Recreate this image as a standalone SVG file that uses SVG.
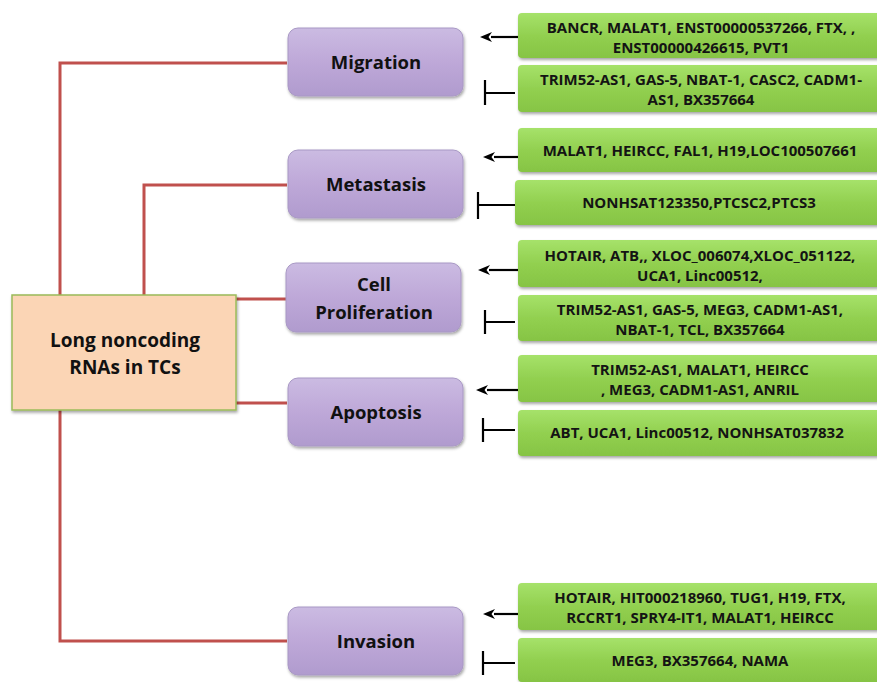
<svg xmlns="http://www.w3.org/2000/svg" width="877" height="682" viewBox="0 0 877 682">
<defs>
<linearGradient id="gGreen" x1="0" y1="0" x2="0" y2="1">
<stop offset="0" stop-color="#a6e26a"/>
<stop offset="0.5" stop-color="#92d050"/>
<stop offset="1" stop-color="#86c444"/>
</linearGradient>
<linearGradient id="gPurple" x1="0" y1="0" x2="0" y2="1">
<stop offset="0" stop-color="#cbbbe2"/>
<stop offset="0.5" stop-color="#bea8d8"/>
<stop offset="1" stop-color="#b09bce"/>
</linearGradient>
<filter id="sh" x="-10%" y="-10%" width="130%" height="140%">
<feDropShadow dx="1" dy="2" stdDeviation="1.5" flood-color="#000" flood-opacity="0.35"/>
</filter>
<marker id="arr" viewBox="0 0 12 10" refX="1" refY="5" markerWidth="12" markerHeight="10" markerUnits="userSpaceOnUse" orient="auto-start-reverse">
<path d="M12,5 L0,0 L3.5,5 L0,10 Z" fill="#000"/>
</marker>
<style>
.red{stroke:#c0504d;stroke-width:3;fill:none}
.blk{stroke:#000;stroke-width:2.2;fill:none}
.green{fill:url(#gGreen);filter:url(#sh)}
.purple{fill:url(#gPurple);stroke:#a898c4;stroke-width:1;filter:url(#sh)}
.gt{font-family:"Open Sans","Liberation Sans",sans-serif;font-weight:bold;font-size:15px;fill:#141414;text-anchor:middle}
.pt{font-family:"Open Sans","Liberation Sans",sans-serif;font-weight:bold;font-size:18.5px;fill:#111;text-anchor:middle}
.ot{font-family:"Open Sans","Liberation Sans",sans-serif;font-weight:bold;font-size:19px;fill:#111;text-anchor:middle}
</style>
</defs>
<rect width="877" height="682" fill="#fff"/>
<g id="connectors">
<polyline class="red" points="287,63 60,63 60,295"/>
<polyline class="red" points="287,185 144,185 144,295"/>
<line class="red" x1="236" y1="299" x2="287" y2="299"/>
<line class="red" x1="236" y1="403" x2="287" y2="403"/>
<polyline class="red" points="60,410 60,641 287,641"/>
<line class="blk" x1="518" y1="37" x2="491" y2="37" marker-end="url(#arr)"/>
<path class="blk" d="M515,93 H485 M485,80 V105"/>
<line class="blk" x1="518" y1="157" x2="494" y2="157" marker-end="url(#arr)"/>
<path class="blk" d="M515,205 H478 M478,192 V219"/>
<line class="blk" x1="518" y1="270" x2="489" y2="270" marker-end="url(#arr)"/>
<path class="blk" d="M515,322 H485 M485,310 V334"/>
<line class="blk" x1="518" y1="390" x2="487" y2="390" marker-end="url(#arr)"/>
<path class="blk" d="M515,430 H483 M483,418 V442"/>
<line class="blk" x1="518" y1="614" x2="494" y2="614" marker-end="url(#arr)"/>
<path class="blk" d="M515,663 H483 M483,651 V675"/>
</g>
<g id="root">
<rect x="12" y="295" width="224" height="115" fill="#fbd5b5" stroke="#9bbb59" stroke-width="1.5" filter="url(#sh)"/>
<text class="ot" x="125" y="347">Long noncoding</text>
<text class="ot" x="125" y="374">RNAs in TCs</text>
</g>
<g id="migration">
<rect class="purple" x="288" y="28" width="175" height="68" rx="10"/>
<text class="pt" x="376" y="69">Migration</text>
</g>
<g id="metastasis">
<rect class="purple" x="288" y="150" width="175" height="68" rx="10"/>
<text class="pt" x="376" y="191">Metastasis</text>
</g>
<g id="proliferation">
<rect class="purple" x="286" y="263" width="175" height="69" rx="10"/>
<text class="pt" x="374" y="291">Cell</text>
<text class="pt" x="374" y="319">Proliferation</text>
</g>
<g id="apoptosis">
<rect class="purple" x="288" y="378" width="175" height="68" rx="10"/>
<text class="pt" x="376" y="419">Apoptosis</text>
</g>
<g id="invasion">
<rect class="purple" x="288" y="607" width="175" height="68" rx="10"/>
<text class="pt" x="376" y="648">Invasion</text>
</g>
<g id="mig-up">
<rect class="green" x="518" y="13" width="370" height="45" rx="4"/>
<text class="gt" x="701" y="33">BANCR, MALAT1, ENST00000537266,  FTX, ,</text>
<text class="gt" x="701" y="53">ENST00000426615, PVT1</text>
</g>
<g id="mig-down">
<rect class="green" x="518" y="65" width="370" height="47" rx="4"/>
<text class="gt" x="701" y="85">TRIM52-AS1, GAS-5, NBAT-1, CASC2, CADM1-</text>
<text class="gt" x="701" y="105">AS1, BX357664</text>
</g>
<g id="met-up">
<rect class="green" x="518" y="128" width="370" height="44" rx="4"/>
<text class="gt" x="700" y="156">MALAT1, HEIRCC, FAL1, H19,LOC100507661</text>
</g>
<g id="met-down">
<rect class="green" x="515" y="180" width="373" height="45" rx="4"/>
<text class="gt" x="699" y="208">NONHSAT123350,PTCSC2,PTCS3</text>
</g>
<g id="pro-up">
<rect class="green" x="518" y="240" width="370" height="47" rx="4"/>
<text class="gt" x="700" y="261">HOTAIR, ATB,, XLOC_006074,XLOC_051122,</text>
<text class="gt" x="700" y="281">UCA1, Linc00512,</text>
</g>
<g id="pro-down">
<rect class="green" x="518" y="295" width="370" height="46" rx="4"/>
<text class="gt" x="700" y="315">TRIM52-AS1, GAS-5, MEG3, CADM1-AS1,</text>
<text class="gt" x="700" y="335">NBAT-1, TCL, BX357664</text>
</g>
<g id="apo-up">
<rect class="green" x="518" y="355" width="370" height="47" rx="4"/>
<text class="gt" x="700" y="375">TRIM52-AS1, MALAT1, HEIRCC</text>
<text class="gt" x="700" y="395">, MEG3, CADM1-AS1, ANRIL</text>
</g>
<g id="apo-down">
<rect class="green" x="518" y="410" width="370" height="46" rx="4"/>
<text class="gt" x="697" y="438">ABT, UCA1, Linc00512, NONHSAT037832</text>
</g>
<g id="inv-up">
<rect class="green" x="518" y="583" width="370" height="47" rx="4"/>
<text class="gt" x="700" y="603">HOTAIR, HIT000218960, TUG1, H19, FTX,</text>
<text class="gt" x="700" y="623">RCCRT1, SPRY4-IT1, MALAT1, HEIRCC</text>
</g>
<g id="inv-down">
<rect class="green" x="518" y="638" width="370" height="44" rx="4"/>
<text class="gt" x="700" y="666">MEG3, BX357664, NAMA</text>
</g>
</svg>
